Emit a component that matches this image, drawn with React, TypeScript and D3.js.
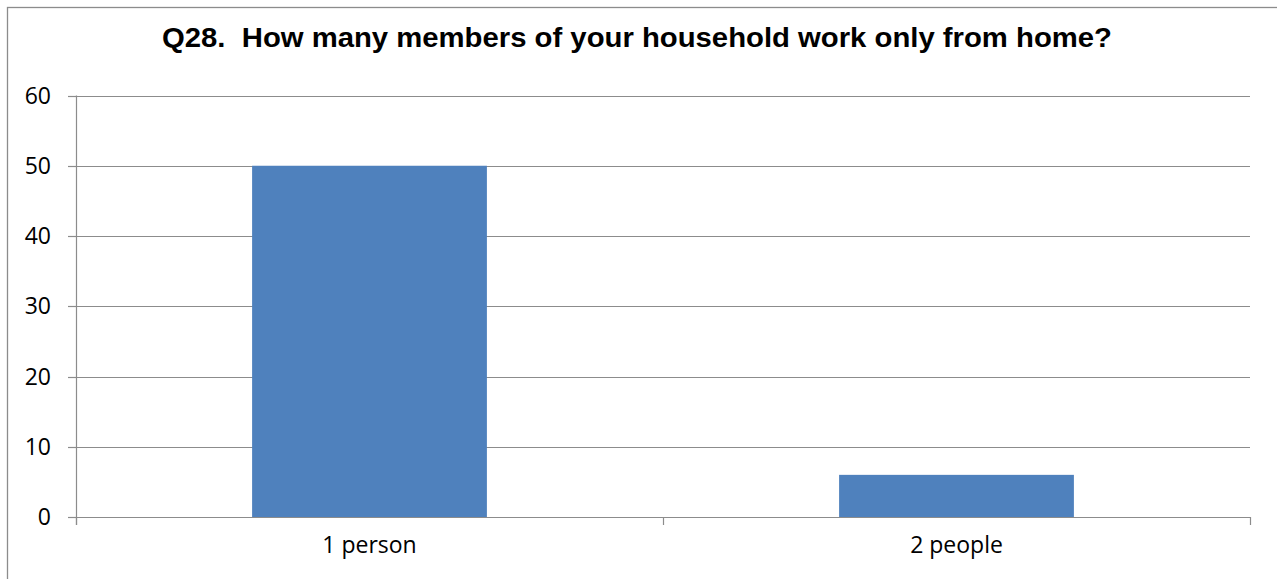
import React from "react";
import * as d3 from "d3";

const title = "Q28.  How many members of your household work only from home?";
const categories = ["1 person", "2 people"];
const values = [50, 6];
const yTicks = [0, 10, 20, 30, 40, 50, 60];

export default function App() {
  const W = 1277;
  const H = 579;
  const left = 76;
  const right = 1250;
  const top = 95.5;
  const bottom = 517;

  const x = d3.scaleBand<string>().domain(categories).range([left, right]).padding(0);
  const y = d3.scaleLinear().domain([0, 60]).range([bottom, top]);
  const bw = x.bandwidth() * 0.4;
  const gridColor = "#8c8c8c";
  const boundaries = [left, ...categories.map((c) => (x(c) as number) + x.bandwidth())];

  return (
    <svg width={W} height={H} style={{ position: "absolute", left: 0, top: 0 }}>
      <rect x={0} y={0} width={W} height={H} fill="#fff" />
      <rect x={7.5} y={7.5} width={W + 10} height={H + 10} fill="none" stroke="#8c8c8c" strokeWidth={1.3} />
      <text
        x={162}
        y={47}
        textAnchor="start"
        fontFamily="'Liberation Sans', Arial, sans-serif"
        fontWeight="bold"
        fontSize={28}
        fill="#000"
        textLength={950}
        lengthAdjust="spacingAndGlyphs"
        style={{ whiteSpace: "pre" }}
        xmlSpace="preserve"
      >
        {title}
      </text>
      {yTicks.map((t) => (
        <g key={t}>
          <line x1={left} x2={right} y1={Math.round(y(t)) + 0.5} y2={Math.round(y(t)) + 0.5} stroke={gridColor} strokeWidth={1.2} />
          <line x1={68} x2={left} y1={Math.round(y(t)) + 0.5} y2={Math.round(y(t)) + 0.5} stroke={gridColor} strokeWidth={1.2} />
          <text
            x={51}
            y={y(t)}
            dy="0.35em"
            textAnchor="end"
            fontFamily="'Open Sans', sans-serif"
            fontSize={23}
            fill="#000"
          >
            {t}
          </text>
        </g>
      ))}
      {categories.map((c, i) => (
        <rect
          key={c}
          x={(x(c) as number) + (x.bandwidth() - bw) / 2}
          y={y(values[i])}
          width={bw}
          height={y(0) - y(values[i])}
          fill="#4f81bd"
        />
      ))}
      <line x1={left + 0.5} x2={left + 0.5} y1={top} y2={525} stroke={gridColor} strokeWidth={1.2} />
      <line x1={left} x2={right} y1={bottom + 0.5} y2={bottom + 0.5} stroke={gridColor} strokeWidth={1.2} />
      {boundaries.map((b, i) => (
        <line key={i} x1={b + 0.5} x2={b + 0.5} y1={bottom} y2={525} stroke={gridColor} strokeWidth={1.2} />
      ))}
      {categories.map((c) => (
        <text
          key={c}
          x={(x(c) as number) + x.bandwidth() / 2}
          y={553}
          textAnchor="middle"
          fontFamily="'Open Sans', sans-serif"
          fontSize={23}
          fill="#000"
        >
          {c}
        </text>
      ))}
    </svg>
  );
}
